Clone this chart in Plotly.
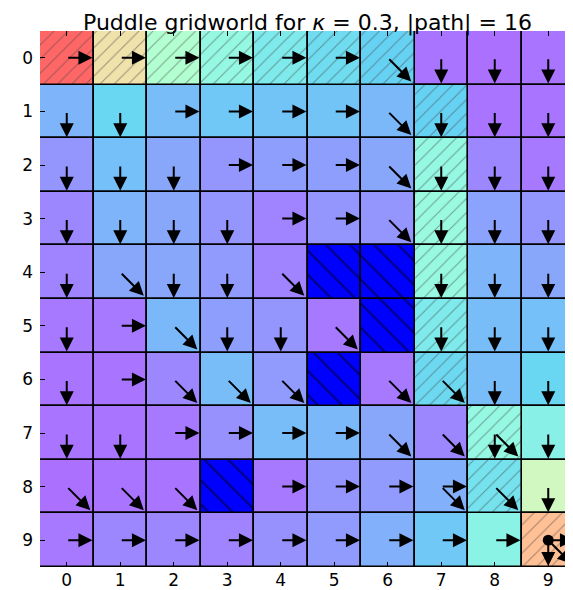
import numpy as np
import plotly.graph_objects as go

N = 10
kappa = 0.3
path_len = 16

# rainbow-colormap value of each cell (None = puddle)
P = None
values = [
    [1.00, 0.70, 0.50, 0.40, 0.33, 0.28, 0.25, 0.03, 0.02, 0.03],
    [0.17, 0.26, 0.19, 0.22, 0.21, 0.21, 0.18, 0.25, 0.03, 0.03],
    [0.10, 0.20, 0.14, 0.10, 0.12, 0.12, 0.14, 0.40, 0.07, 0.04],
    [0.07, 0.17, 0.14, 0.10, 0.06, 0.10, 0.10, 0.42, 0.13, 0.10],
    [0.06, 0.14, 0.14, 0.11, 0.06, P,    P,    0.41, 0.17, 0.14],
    [0.04, 0.04, 0.18, 0.12, 0.10, 0.04, P,    0.33, 0.19, 0.20],
    [0.03, 0.03, 0.07, 0.19, 0.11, P,    0.04, 0.27, 0.19, 0.26],
    [0.03, 0.03, 0.04, 0.09, 0.19, 0.18, 0.14, 0.07, 0.40, 0.36],
    [0.02, 0.03, 0.03, P,    0.04, 0.10, 0.11, 0.16, 0.30, 0.60],
    [0.04, 0.07, 0.07, 0.06, 0.09, 0.11, 0.16, 0.22, 0.37, 0.80],
]

# policy: R = right, D = down, X = diagonal down-right, '-' = none
policy = [
    ["R", "R", "R", "R", "R", "R", "X", "D", "D", "D"],
    ["D", "D", "R", "R", "R", "R", "X", "D", "D", "D"],
    ["D", "D", "D", "R", "R", "R", "X", "D", "D", "D"],
    ["D", "D", "D", "D", "R", "R", "X", "D", "D", "D"],
    ["D", "X", "D", "D", "X", "-", "-", "D", "D", "D"],
    ["D", "R", "X", "D", "D", "X", "-", "D", "D", "D"],
    ["D", "R", "X", "X", "X", "-", "X", "X", "D", "D"],
    ["D", "D", "R", "R", "R", "R", "X", "X", "DX", "D"],
    ["X", "X", "X", "-", "R", "R", "R", "RX", "X", "D"],
    ["R", "R", "R", "R", "R", "R", "R", "R", "R", "RDX"],
]

path_cells = [(0, 0), (0, 1), (0, 2), (0, 3), (0, 4), (0, 5), (0, 6),
              (1, 7), (2, 7), (3, 7), (4, 7), (5, 7), (6, 7),
              (7, 8), (8, 8), (9, 9)]
puddle_cells = [(4, 5), (4, 6), (5, 6), (6, 5), (8, 3)]
goal = (9, 9)
tick_labels = [str(i) for i in range(N)]


def rainbow(x):
    r = min(1.0, abs(2 * x - 0.5))
    g = np.sin(np.pi * x)
    b = np.cos(np.pi * x / 2)
    return np.array([r, g, b])


def rgb(c):
    c = np.clip(c, 0, 1)
    return "rgb(%d,%d,%d)" % tuple(int(round(v * 255)) for v in c)


def face(x, alpha=0.6):
    return rgb(alpha * rainbow(x) + (1 - alpha))


def hatchcol(x):
    return rgb((0.6 * rainbow(x) + 0.4) * 0.45)


path_set = set(path_cells)
puddle_set = set(puddle_cells)

plain = dict(x=[], base=[], color=[])
hatched = dict(x=[], base=[], color=[], fg=[])
puddle = dict(x=[], base=[])
for r in range(N):
    for c in range(N):
        if (r, c) in puddle_set:
            puddle["x"].append(c)
            puddle["base"].append(r - 0.5)
        elif (r, c) in path_set:
            hatched["x"].append(c)
            hatched["base"].append(r - 0.5)
            hatched["color"].append(face(values[r][c]))
            hatched["fg"].append(hatchcol(values[r][c]))
        else:
            plain["x"].append(c)
            plain["base"].append(r - 0.5)
            plain["color"].append(face(values[r][c]))

line = dict(color="black", width=1.6)
fig = go.Figure()
fig.add_trace(go.Bar(x=plain["x"], y=[1] * len(plain["x"]), base=plain["base"],
                     width=1, marker=dict(color=plain["color"], line=line),
                     hoverinfo="skip"))
fig.add_trace(go.Bar(x=hatched["x"], y=[1] * len(hatched["x"]), base=hatched["base"],
                     width=1,
                     marker=dict(color=hatched["color"], line=line,
                                 pattern=dict(shape="/", fillmode="overlay",
                                              fgcolor=hatched["fg"], size=10,
                                              solidity=0.1)),
                     hoverinfo="skip"))
fig.add_trace(go.Bar(x=puddle["x"], y=[1] * len(puddle["x"]), base=puddle["base"],
                     width=1,
                     marker=dict(color="rgb(0,0,255)", line=line,
                                 pattern=dict(shape="\\", fillmode="overlay",
                                              fgcolor="black", size=17,
                                              solidity=0.12)),
                     hoverinfo="skip"))
fig.add_trace(go.Scatter(x=[goal[1]], y=[goal[0]], mode="markers",
                         marker=dict(color="black", size=11), hoverinfo="skip"))

vec = {"R": (0.48, 0.0), "D": (0.0, 0.48), "X": (0.44, 0.44)}
annotations = []
for r in range(N):
    for c in range(N):
        for a in policy[r][c]:
            if a not in vec:
                continue
            dx, dy = vec[a]
            annotations.append(dict(
                x=c + dx, y=r + dy, ax=c, ay=r, xref="x", yref="y",
                axref="x", ayref="y", showarrow=True, text="",
                arrowhead=2, arrowsize=1.4, arrowwidth=2.0, arrowcolor="black",
                standoff=0, startstandoff=0))

font = "DejaVu Sans, sans-serif"
fig.update_layout(
    width=573, height=590,
    margin=dict(l=32, r=6, t=23, b=31),
    paper_bgcolor="white", plot_bgcolor="white",
    barmode="overlay", bargap=0, showlegend=False,
    annotations=annotations,
    title=dict(text="Puddle gridworld for <i>κ</i> = %.1f, |path| = %d" % (kappa, path_len),
               x=0.5, xref="paper", xanchor="center",
               y=1 - 14 / 590, yref="container", yanchor="middle",
               font=dict(family=font, size=22, color="black")),
    xaxis=dict(range=[-0.5, 9.5], tickvals=list(range(N)), ticktext=tick_labels,
               ticks="inside", ticklen=5, tickwidth=1, tickcolor="black",
               mirror="ticks", showgrid=False, zeroline=False, showline=False,
               ticklabelstandoff=1,
               tickfont=dict(family=font, size=17, color="black")),
    yaxis=dict(range=[9.5, -0.5], tickvals=list(range(N)), ticktext=tick_labels,
               ticks="inside", ticklen=5, tickwidth=1, tickcolor="black",
               mirror="ticks", showgrid=False, zeroline=False, showline=False,
               ticklabelstandoff=6,
               tickfont=dict(family=font, size=17, color="black")),
)
fig.write_html("out.html")
